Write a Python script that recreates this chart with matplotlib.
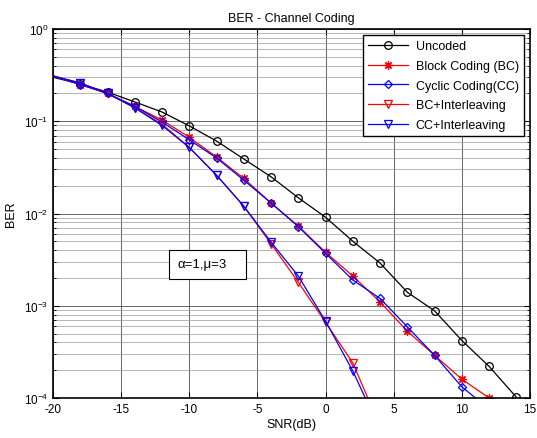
import numpy as np
import matplotlib
matplotlib.use('Agg')
import matplotlib.pyplot as plt
from matplotlib.ticker import LogLocator, NullFormatter
from matplotlib.patches import Rectangle

plt.rcParams['font.family'] = ['Liberation Sans', 'DejaVu Sans']
plt.rcParams['font.size'] = 8.5
plt.rcParams['axes.unicode_minus'] = False

# SNR points (dB)
snr = [-20, -18, -16, -14, -12, -10, -8, -6, -4, -2, 0, 2, 4, 6, 8, 10, 12, 14]
ber_uncoded = [0.30, 0.253, 0.207, 0.162, 0.126, 0.089, 0.061, 0.039, 0.025, 0.0148,
               0.0091, 0.0050, 0.0029, 0.0014, 0.00088, 0.00042, 0.00022, 0.000102]

snr_bc = [-20, -18, -16, -14, -12, -10, -8, -6, -4, -2, 0, 2, 4, 6, 8, 10, 12]
ber_bc = [0.31, 0.25, 0.20, 0.145, 0.103, 0.067, 0.041, 0.024, 0.013, 0.0073,
          0.0038, 0.0021, 0.0011, 0.00053, 0.00029, 0.00016, 0.0001]

snr_cc = [-20, -18, -16, -14, -12, -10, -8, -6, -4, -2, 0, 2, 4, 6, 8, 10, 12]
ber_cc = [0.31, 0.25, 0.20, 0.145, 0.098, 0.063, 0.040, 0.023, 0.013, 0.0072,
          0.0037, 0.0019, 0.0012, 0.00059, 0.00029, 0.000132, 0.000076]

snr_int = [-20, -18, -16, -14, -12, -10, -8, -6, -4, -2, 0, 2, 4]
ber_bci = [0.31, 0.26, 0.20, 0.14, 0.093, 0.052, 0.026, 0.012, 0.0047, 0.0018,
           0.00066, 0.00024, 0.000049]
ber_cci = [0.31, 0.26, 0.20, 0.14, 0.090, 0.052, 0.026, 0.012, 0.0049, 0.0021,
           0.00068, 0.000196, 0.000045]

fig = plt.figure(figsize=(5.37, 4.39), dpi=100)
ax = fig.add_axes([53/537, 1 - 399/439, 477/537, 369/439])

skip = slice(1, None)
ax.semilogy(snr, ber_uncoded, 'k-o', mfc='none', ms=5.5, mew=0.9, lw=0.9, markevery=skip, label='Uncoded')
ax.semilogy(snr_bc, ber_bc, 'r-', marker=(8, 2, 0), ms=6, mew=0.9, lw=0.9, markevery=skip, label='Block Coding (BC)')
ax.semilogy(snr_cc, ber_cc, 'b-D', mfc='none', ms=4.2, mew=0.9, lw=0.9, markevery=skip, label='Cyclic Coding(CC)')
ax.semilogy(snr_int, ber_bci, 'r-v', mfc='none', ms=6, mew=0.9, lw=0.9, markevery=skip, label='BC+Interleaving')
ax.semilogy(snr_int, ber_cci, 'b-v', mfc='none', ms=6, mew=0.9, lw=0.9, markevery=skip, label='CC+Interleaving')

ax.set_xlim(-20, 15)
ax.set_ylim(1e-4, 1)
ax.set_xticks(np.arange(-20, 16, 5))
ax.yaxis.set_major_locator(LogLocator(base=10, numticks=10))
ax.yaxis.set_minor_locator(LogLocator(base=10, subs=np.arange(2, 10), numticks=10))
ax.yaxis.set_minor_formatter(NullFormatter())

ax.grid(True, which='major', color='0.3', lw=0.6)
ax.grid(True, which='minor', axis='y', color='0.6', lw=0.5)
ax.tick_params(which='both', direction='in', top=True, right=True, labelsize=8.5)
ax.tick_params(which='major', length=4)
ax.tick_params(which='minor', length=2)
for s in ax.spines.values():
    s.set_linewidth(1.2)

ax.set_title('BER - Channel Coding', fontsize=9, pad=6)
ax.set_xlabel('SNR(dB)', fontsize=9, labelpad=2)
ax.set_ylabel('BER', fontsize=9, labelpad=5)

leg = ax.legend(loc='upper right', fancybox=False, edgecolor='k', framealpha=1,
                fontsize=9, borderaxespad=0.5, handlelength=3.2, labelspacing=0.62,
                borderpad=0.4, handletextpad=0.6)
leg.get_frame().set_linewidth(1.0)

# parameter annotation box
ax.add_patch(Rectangle((116/477, 119/369), 77/477, 29/369, transform=ax.transAxes,
                       fc='white', ec='k', lw=0.8, zorder=5))
ax.text(124/477, 134/369, 'α=1,μ=3', transform=ax.transAxes, fontsize=9.5,
        va='center', ha='left', zorder=6)

fig.savefig('out.png', dpi=100)
